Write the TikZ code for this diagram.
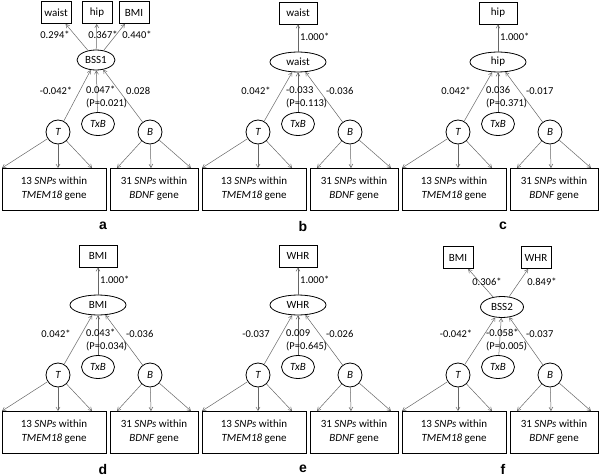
\documentclass[tikz,border=0pt]{standalone}
\usepackage{fontspec}
\setmainfont{Carlito}
\newfontfamily\letterfont{Liberation Sans}
\usetikzlibrary{arrows,shapes}
\tikzstyle{latent}=[circle,draw,line width=0.8pt,minimum size=24pt,inner sep=0pt,font=\fontsize{11}{13}\selectfont\itshape]
\tikzstyle{inter}=[ellipse,draw,line width=0.8pt,minimum width=33pt,minimum height=23pt,inner sep=0pt,font=\fontsize{11}{13}\selectfont\itshape]
\tikzstyle{outcome}=[ellipse,draw,line width=0.8pt,minimum width=56pt,minimum height=20pt,inner sep=0pt,font=\fontsize{11}{13}\selectfont]
\tikzstyle{obsbox}=[rectangle,draw,line width=0.9pt,minimum width=38pt,minimum height=22pt,inner sep=0pt,font=\fontsize{11}{13}\selectfont]
\tikzstyle{snpbox}=[rectangle,draw,line width=0.9pt,minimum height=42pt,inner sep=0pt,align=center,font=\fontsize{11}{14}\selectfont]
\tikzstyle{coef}=[inner sep=0pt,font=\fontsize{10.5}{13}\selectfont]
\tikzstyle{letter}=[inner sep=0pt,font=\letterfont\bfseries\fontsize{14}{16}\selectfont]
\tikzstyle{edge}=[draw,->,>=angle 60,gray!80!black,line width=0.5pt]

\begin{document}
\begin{tikzpicture}[x=1pt,y=-1pt]
    \useasboundingbox (0,0) rectangle (600,476);
    % Lower part of every panel: T, TxB, B and the SNP boxes
    \foreach \ox/\oy/\p in {0/0/a, 200/0/b, 400/0/c, 0/243/d, 200/243/e, 400/243/f}{
        \node[latent] (\p T) at (\ox+58,\oy+132) {T};
        \node[inter] (\p X) at (\ox+98,\oy+124) {TxB};
        \node[latent] (\p B) at (\ox+150,\oy+132) {B};
        \node[snpbox,minimum width=104pt] (\p L) at (\ox+54,\oy+189) {13 \textit{SNPs} within\\\textit{TMEM18} gene};
        \node[snpbox,minimum width=88pt] (\p R) at (\ox+154,\oy+189) {31 \textit{SNPs} within\\\textit{BDNF} gene};
        \node[letter] (\p lab) at (\ox+103,\oy+226) {\p};
        \foreach \dx [count=\i] in {2,58,92}{
            \coordinate (\p t\i) at (\ox+\dx,\oy+168);
            \path[edge] (\p T) -- (\p t\i);
        }
        \foreach \dx [count=\i] in {117,151,191}{
            \coordinate (\p b\i) at (\ox+\dx,\oy+168);
            \path[edge] (\p B) -- (\p b\i);
        }
    }
    % Panels with one outcome
    \foreach \ox/\oy/\p/\name in {200/0/b/waist, 400/0/c/hip, 0/243/d/BMI, 200/243/e/WHR}{
        \node[outcome] (\p O) at (\ox+98,\oy+62) {\name};
        \node[obsbox] (\p Y) at (\ox+98,\oy+13) {\name};
        \path[edge] (\p O) -- (\p Y);
        \node[coef,anchor=west] (\p cy) at (\ox+100,\oy+37) {1.000*};
    }
    % Panel a: BSS1
    \node[outcome,minimum width=38pt] (aO) at (96,60) {BSS1};
    \foreach \x/\name/\c/\lx in {56/waist/0.294*/55, 97/hip/0.367*/103, 134/BMI/0.440*/137}{
        \node[obsbox,minimum width=30pt] (a\name) at (\x,12.5) {\name};
        \path[edge] (aO) -- (a\name);
        \node[coef] (ac\name) at (\lx,35) {\c};
    }
    % Panel f: BSS2
    \node[outcome,minimum width=43pt,minimum height=21pt] (fO) at (502,307) {BSS2};
    \foreach \x/\name/\c/\lx in {458/BMI/0.306*/487, 536/WHR/0.849*/542}{
        \node[obsbox,minimum width=30pt] (f\name) at (\x,257.5) {\name};
        \path[edge] (fO) -- (f\name);
        \node[coef] (fc\name) at (\lx,282) {\c};
    }
    % Paths into the outcome and their coefficients
    \foreach \ox/\oy/\p/\ct/\cm/\pv/\cb in {0/0/a/-0.042*/0.047*/0.021/0.028, 200/0/b/0.042*/-0.033/0.113/-0.036, 400/0/c/0.042*/0.036/0.371/-0.017, 0/243/d/0.042*/0.043*/0.034/-0.036, 200/243/e/-0.037/0.009/0.645/-0.026, 400/243/f/-0.042*/-0.058*/0.005/-0.037}{
        \path[edge] (\p T) -- (\p O);
        \path[edge] (\p X) -- (\p O);
        \path[edge] (\p B) -- (\p O);
        \node[coef] (\p ct) at (\ox+56,\oy+91) {\ct};
        \node[coef,anchor=west,align=left] (\p cm) at (\ox+86,\oy+97) {\cm\\(P=\pv)};
        \node[coef,anchor=west] (\p cb) at (\ox+126,\oy+91) {\cb};
    }
\end{tikzpicture}
\end{document}
